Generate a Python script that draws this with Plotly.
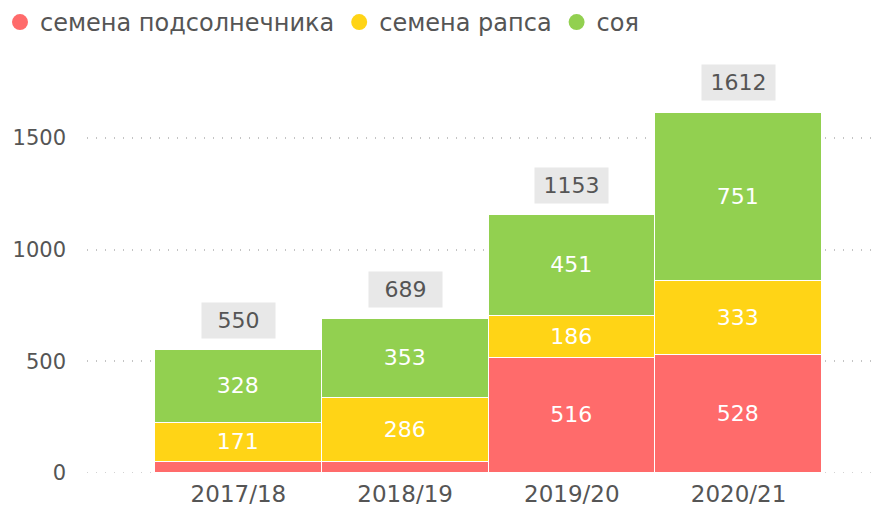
import plotly.graph_objects as go

years = ["2017/18", "2018/19", "2019/20", "2020/21"]
sunflower = [51, 50, 516, 528]
rapeseed = [171, 286, 186, 333]
soy = [328, 353, 451, 751]
series_names = ["семена подсолнечника", "семена рапса", "соя"]
colors = ["#ff6b6b", "#ffd416", "#92d050"]
totals = [a + b + c for a, b, c in zip(sunflower, rapeseed, soy)]

FONT = "DejaVu Sans"
fig = go.Figure()
for name, vals, col in zip(series_names, [sunflower, rapeseed, soy], colors):
    labels = [str(v) if v >= 100 else "" for v in vals]
    fig.add_trace(go.Bar(
        x=years, y=vals, name=name, marker=dict(color=col, line=dict(color="white", width=1.5)),
        text=labels, textposition="inside", insidetextanchor="middle",
        textfont=dict(color="white", size=22, family=FONT), showlegend=False,
        hoverinfo="skip"))
    fig.add_trace(go.Scatter(
        x=[None], y=[None], mode="markers", name=name,
        marker=dict(symbol="circle", size=17, color=col), showlegend=True))

for yr, t in zip(years, totals):
    fig.add_annotation(x=yr, y=t, text=str(t), showarrow=False, yshift=30,
                       bgcolor="#e8e8e8", borderpad=0, width=73, height=35,
                       font=dict(color="#555555", size=22, family=FONT))

fig.add_shape(type="line", xref="paper", yref="y", x0=0, x1=1, y0=0, y1=0,
              line=dict(color="#c4c4c4", width=1.5, dash="1px,8px"), layer="below")

fig.update_layout(
    width=879, height=508, barmode="stack", bargap=0,
    plot_bgcolor="white", paper_bgcolor="white",
    margin=dict(l=87, r=0, t=50, b=35),
    font=dict(family=FONT, color="#555555"),
    legend=dict(orientation="h", xref="container", yref="container", x=0.0, y=1.0,
                xanchor="left", yanchor="top", traceorder="normal",
                font=dict(size=24, color="#555555", family=FONT),
                itemwidth=30, tracegroupgap=0),
    xaxis=dict(range=[-0.908, 3.842], showgrid=False, showline=False, zeroline=False,
               tickfont=dict(size=23, color="#555555"), ticks="", ticklabelstandoff=5),
    yaxis=dict(range=[0, 1894], tickvals=[0, 500, 1000, 1500], showgrid=True,
               gridcolor="#c4c4c4", griddash="1px,8px", gridwidth=1.5, zeroline=False,
               showline=False, tickfont=dict(size=21, color="#555555"), ticklabelstandoff=20),
)
fig.write_html("out.html", config={"displayModeBar": False},
               post_script="document.body.style.margin='0px';")
